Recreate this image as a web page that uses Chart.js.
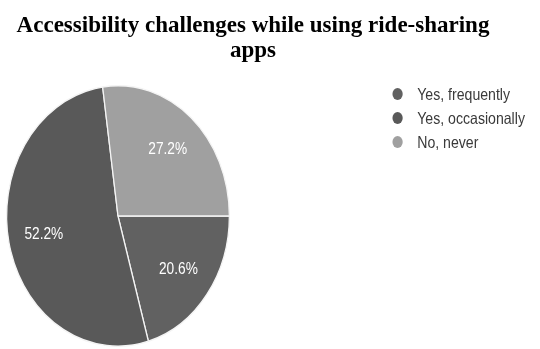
<!DOCTYPE html>
<html>
<head>
<meta charset="utf-8">
<script src="https://cdn.jsdelivr.net/npm/chart.js@4.4.1/dist/chart.umd.min.js"></script>
<style>
  html, body { margin: 0; padding: 0; background: #fff; }
  #pie { display: block; }
</style>
</head>
<body>
<canvas id="pie" width="540" height="349"></canvas>
<script>
// survey answers, in percent
const titleLines = ["Accessibility challenges while using ride-sharing", "apps"];
const answers = ["Yes, frequently", "Yes, occasionally", "No, never"];
const shares = [20.6, 52.2, 27.2];
const sliceColors = ["#616161", "#595959", "#a0a0a0"];

// the pie image is squeezed sideways, so everything below the title is drawn
// with a horizontal scale applied
const SX = 0.855;

const squeezePlugin = {
  id: "squeeze",
  beforeDatasetsDraw(chart) {
    chart.ctx.save();
    chart.ctx.scale(SX, 1);
  },
  afterDatasetsDraw(chart) {
    const ctx = chart.ctx;
    const meta = chart.getDatasetMeta(0);
    const values = chart.data.datasets[0].data;

    // percentage text inside each slice
    ctx.font = "16px 'Liberation Sans', Arial, sans-serif";
    ctx.fillStyle = "#ffffff";
    ctx.textAlign = "center";
    ctx.textBaseline = "middle";
    meta.data.forEach((arc, i) => {
      const p = arc.getProps(["x", "y", "startAngle", "endAngle", "outerRadius"], true);
      const mid = (p.startAngle + p.endAngle) / 2;
      const r = p.outerRadius * 0.68;
      ctx.fillText(values[i].toFixed(1) + "%", p.x + Math.cos(mid) * r, p.y + Math.sin(mid) * r);
    });
    ctx.restore();
  },
  afterDraw(chart) {
    const ctx = chart.ctx;

    // heading
    ctx.save();
    ctx.font = "bold 23px 'Liberation Serif', 'Times New Roman', serif";
    ctx.fillStyle = "#000";
    ctx.textAlign = "center";
    ctx.textBaseline = "alphabetic";
    ctx.fillText(titleLines[0], 253, 32);
    ctx.fillText(titleLines[1], 253, 57);
    ctx.restore();

    // legend on the right
    ctx.save();
    ctx.scale(SX, 1);
    ctx.font = "16.5px 'Liberation Sans', Arial, sans-serif";
    ctx.textAlign = "left";
    ctx.textBaseline = "middle";
    chart.data.labels.forEach((label, i) => {
      const y = 94 + i * 24;
      ctx.fillStyle = sliceColors[i];
      ctx.beginPath();
      ctx.arc(465, y, 6, 0, Math.PI * 2);
      ctx.fill();
      ctx.fillStyle = "#3a3a3a";
      ctx.fillText(label, 488, y + 1);
    });
    ctx.restore();
  }
};

new Chart(document.getElementById("pie"), {
  type: "pie",
  data: {
    labels: answers,
    datasets: [{
      data: shares,
      backgroundColor: sliceColors,
      borderColor: "#f4f4f4",
      borderWidth: 1.5
    }]
  },
  options: {
    responsive: false,
    devicePixelRatio: 1,
    animation: false,
    rotation: 90,
    layout: { padding: { left: 7, right: 271, top: 85, bottom: 2 } },
    plugins: {
      legend: { display: false },
      title: { display: false },
      tooltip: { enabled: false }
    }
  },
  plugins: [squeezePlugin]
});
</script>
</body>
</html>
